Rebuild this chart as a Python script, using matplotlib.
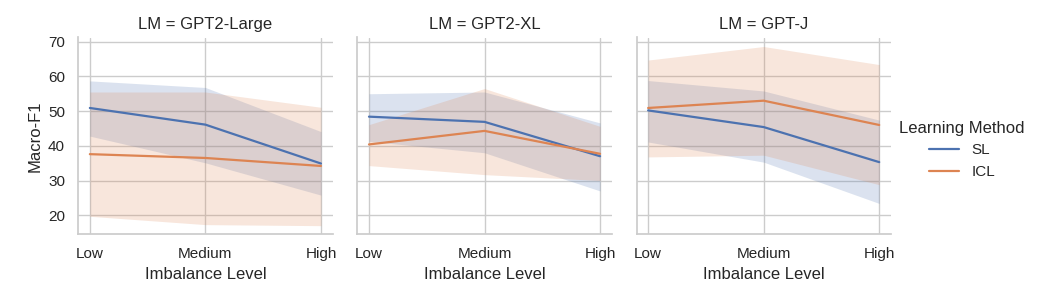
import numpy as np
import matplotlib
matplotlib.use("Agg")
import matplotlib.pyplot as plt
import seaborn as sns

# Values (mean line + shaded interval)
levels = ["Low", "Medium", "High"]
models = ["GPT2-Large", "GPT2-XL", "GPT-J"]

sl_mean = {"GPT2-Large": [50.9, 46.1, 34.9],
           "GPT2-XL": [48.4, 46.9, 37.0],
           "GPT-J": [50.2, 45.4, 35.3]}
sl_lo = {"GPT2-Large": [42.8, 35.1, 25.8],
         "GPT2-XL": [41.3, 38.0, 27.0],
         "GPT-J": [41.1, 35.3, 23.4]}
sl_hi = {"GPT2-Large": [58.7, 56.8, 44.1],
         "GPT2-XL": [55.0, 55.5, 46.6],
         "GPT-J": [58.8, 55.8, 47.4]}

icl_mean = {"GPT2-Large": [37.6, 36.5, 34.2],
            "GPT2-XL": [40.4, 44.3, 37.7],
            "GPT-J": [50.9, 53.0, 46.0]}
icl_lo = {"GPT2-Large": [19.7, 17.3, 17.0],
          "GPT2-XL": [34.3, 31.7, 30.0],
          "GPT-J": [36.8, 37.3, 28.8]}
icl_hi = {"GPT2-Large": [55.5, 55.5, 51.1],
          "GPT2-XL": [46.1, 56.5, 45.6],
          "GPT-J": [64.7, 68.6, 63.4]}

sns.set_theme(style="whitegrid")
plt.rcParams["font.family"] = ["Liberation Sans", "DejaVu Sans"]

colors = sns.color_palette()
x = np.arange(len(levels))

fig, axes = plt.subplots(1, 3, figsize=(10.37, 3.0), dpi=100, sharey=True)
fig.subplots_adjust(left=0.0755, right=0.859, bottom=0.22, top=0.875, wspace=0.098)

for ax, m in zip(axes, models):
    ax.plot(x, sl_mean[m], color=colors[0], lw=1.6, label="SL")
    ax.fill_between(x, sl_lo[m], sl_hi[m], color=colors[0], alpha=0.2, lw=0)
    ax.plot(x, icl_mean[m], color=colors[1], lw=1.6, label="ICL")
    ax.fill_between(x, icl_lo[m], icl_hi[m], color=colors[1], alpha=0.2, lw=0)
    ax.set_xticks(x)
    ax.set_xticklabels(levels, fontsize=11)
    ax.tick_params(axis="y", labelsize=11)
    ax.set_title(f"LM = {m}", fontsize=12)
    ax.set_xlabel("Imbalance Level", fontsize=12)
    ax.set_xlim(-0.1, 2.1)
    sns.despine(ax=ax)

axes[0].set_ylabel("Macro-F1", fontsize=12)
axes[0].set_ylim(14.6, 71.2)
axes[0].set_yticks([20, 30, 40, 50, 60, 70])

handles, labels = axes[0].get_legend_handles_labels()
fig.legend(handles, labels, title="Learning Method", loc="center left",
           bbox_to_anchor=(0.854, 0.5), frameon=False, fontsize=11,
           title_fontsize=12)

plt.savefig("out.png", dpi=100)
